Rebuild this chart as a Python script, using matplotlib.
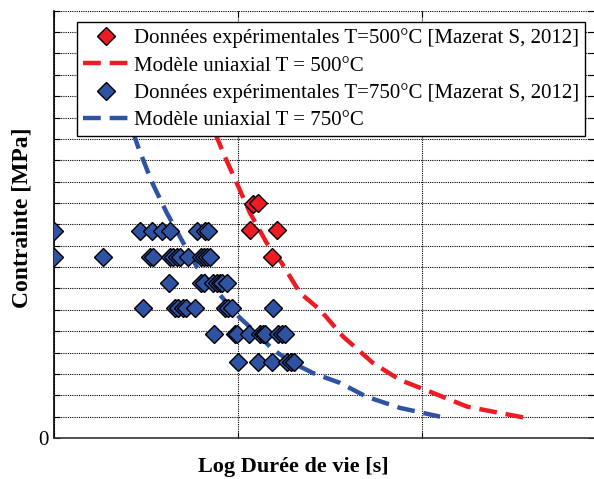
import numpy as np
import matplotlib
matplotlib.use("Agg")
import matplotlib.pyplot as plt

# donnees experimentales (unites d'axe : x = log duree, y = contrainte)
red_x = [1.08, 1.11, 1.065, 1.21, 1.183]
red_y = [10.93, 10.98, 9.74, 9.74, 8.49]

blue_x = [0.0, 0.467, 0.533, 0.587, 0.630, 0.777, 0.821, 0.837,
          0.0, 0.267, 0.522, 0.538, 0.630, 0.647, 0.668, 0.685, 0.728, 0.799, 0.815, 0.832, 0.848,
          0.625, 0.799, 0.815, 0.864, 0.886, 0.902, 0.913, 0.940,
          0.484, 0.658, 0.674, 0.701, 0.717, 0.766, 0.929, 0.946, 0.967, 1.190,
          0.870, 0.984, 0.995, 1.060, 1.120, 1.136, 1.147, 1.217, 1.239, 1.255,
          1.000, 1.109, 1.185, 1.266, 1.288, 1.304]
blue_y = [9.71] * 8 + [8.49] * 13 + [7.25] * 8 + [6.1] * 10 + [4.86] * 10 + [3.57] * 6

# modeles uniaxiaux
mod500_x = [0.875, 0.929, 0.993, 1.065, 1.156, 1.237, 1.337, 1.446, 1.571,
            1.734, 1.880, 2.060, 2.245, 2.424, 2.560]
mod500_y = [14.29, 13.16, 11.94, 10.54, 9.13, 8.20, 6.79, 6.00, 4.75,
            3.51, 2.72, 2.11, 1.47, 1.17, 0.95]
mod750_x = [0.429, 0.457, 0.531, 0.613, 0.703, 0.776, 0.866, 0.939, 1.011,
            1.102, 1.192, 1.301, 1.408, 1.554, 1.699, 1.880, 2.098]
mod750_y = [14.33, 13.63, 12.00, 10.54, 9.13, 8.02, 7.09, 6.32, 5.62,
            4.90, 4.12, 3.50, 3.04, 2.58, 1.93, 1.41, 1.00]

RED = '#ED1C24'
BLUE = '#2F52A3'

plt.rcParams['font.family'] = ['Liberation Serif', 'DejaVu Serif']

fig = plt.figure(figsize=(5.94, 4.79), dpi=100)
ax = fig.add_axes([0.0909, 0.0856, 0.9091, 0.892])

ax.plot(mod500_x, mod500_y, color=RED, lw=3.2, dashes=(4, 2), zorder=2)
ax.plot(mod750_x, mod750_y, color=BLUE, lw=3.2, dashes=(4, 2), zorder=2)
ax.plot(red_x, red_y, 'D', color=RED, mec='black', mew=1.0, ms=9.5, zorder=3)
ax.plot(blue_x, blue_y, 'D', color=BLUE, mec='black', mew=1.0, ms=9.5, zorder=3)

# legende construite a part (ordre : donnees, modele)
h1, = ax.plot([], [], 'D', color=RED, mec='black', mew=1.0, ms=9.5)
h2, = ax.plot([], [], color=RED, lw=3.2, dashes=(4, 2))
h3, = ax.plot([], [], 'D', color=BLUE, mec='black', mew=1.0, ms=9.5)
h4, = ax.plot([], [], color=BLUE, lw=3.2, dashes=(4, 2))
leg = ax.legend([h1, h2, h3, h4],
                ['Données expérimentales T=500°C [Mazerat S, 2012]',
                 'Modèle uniaxial T = 500°C',
                 'Données expérimentales T=750°C [Mazerat S, 2012]',
                 'Modèle uniaxial T = 750°C'],
                loc='upper left', bbox_to_anchor=(0.042, 0.973),
                fontsize=15, frameon=True, fancybox=False, framealpha=1,
                edgecolor='black', borderpad=0.3, labelspacing=0.36,
                handlelength=2.2, handletextpad=0.25, borderaxespad=0)
leg.get_frame().set_linewidth(1.0)
leg.set_zorder(5)

ax.set_xlim(0, 2.935)
ax.set_ylim(0, 20)
ax.set_xticks([0, 1, 2])
ax.set_xticklabels([])
ax.set_yticks(np.arange(0, 21))
ax.set_yticklabels(['0'] + [''] * 20, fontsize=15)
ax.tick_params(direction='in', length=4, width=0.8, top=True, right=True, pad=4)
ax.grid(True, color='black', linestyle=(0, (1, 1)), lw=0.8)
ax.set_axisbelow(True)

for s in ['top', 'right']:
    ax.spines[s].set_visible(False)
ax.spines['left'].set_linewidth(1.2)
ax.spines['bottom'].set_linewidth(1.2)
ax.spines['bottom'].set_color('#333333')

ax.set_xlabel('Log Durée de vie [s]', fontsize=16, fontweight='bold')
ax.xaxis.set_label_coords(0.444, -0.045)
ax.set_ylabel('Contrainte [MPa]', fontsize=17, fontweight='bold')
ax.yaxis.set_label_coords(-0.039, 0.515)

fig.savefig('out.png', dpi=100)
